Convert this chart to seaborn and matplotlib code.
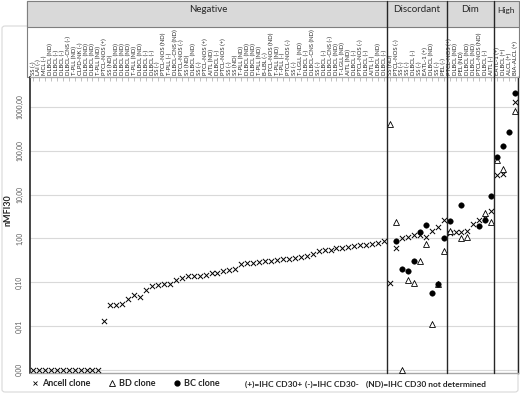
import numpy as np
import pandas as pd
import matplotlib
matplotlib.use("Agg")
import matplotlib.pyplot as plt
import seaborn as sns
from matplotlib.patches import Rectangle, FancyBboxPatch
from matplotlib.lines import Line2D
from matplotlib.ticker import FixedLocator, NullLocator, FuncFormatter

sns.set_style("white")
plt.rcParams['font.family'] = ['Lato', 'DejaVu Sans']

groups = ["Negative", "Discordant", "Dim", "High"]
group_sizes = [60, 10, 8, 4]

samples = [
    "SS (-)", "LAI (-)", "MCL (-)", "DLBCL (ND)", "DLBCL (-)", "DLBCL (-)", "DLBCL-CNS (-)",
    "T-PLL (ND)", "CLPD-NK (-)", "DLBCL (ND)", "DLBCL (ND)", "T-PLL (ND)", "PTCL-NOS (+)",
    "SS (ND)", "DLBCL (ND)", "DLBCL (ND)", "DLBCL (ND)", "T-PLL (ND)", "DLBCL (ND)",
    "DLBCL (-)", "DLBCL (-)", "SS (-)", "PTCL-NOS (ND)", "T-PLL (-)", "DLBCL-CNS (ND)",
    "PTCL-NOS (-)", "SS (ND)", "DLBCL (ND)", "SS (-)", "PTCL-NOS (+)", "AITL (ND)",
    "DLBCL (-)", "PTCL-NOS (+)", "SS (-)", "SS (ND)", "T-PLL (ND)", "DLBCL (ND)",
    "DLBCL (ND)", "T-PLL (ND)", "B-LBL (-)", "PTCL-NOS (ND)", "T-PLL (ND)", "T-PLL (-)",
    "PTCL-NOS (-)", "SS (-)", "T-LGLL (ND)", "DLBCL (-)", "DLBCL-CNS (ND)", "SS (-)",
    "DLBCL (-)", "DLBCL-CNS (-)", "DLBCL (ND)", "T-LGLL (ND)", "AITL (ND)", "DLBCL (-)",
    "PTCL-NOS (-)", "DLBCL (-)", "AITL (-)", "DLBCL (ND)", "DLBCL (-)",
    # discordant
    "SS (ND)", "PTCL-NOS (-)", "SS (-)", "SS (-)", "DLBCL (-)", "SS (-)", "EATL-1 (+)",
    "DLBCL (ND)", "SS (-)", "PEL (-)",
    # dim
    "PTCL-NOS (+)", "DLBCL (ND)", "PEL (ND)", "DLBCL (ND)", "DLBCL (ND)", "PTCL-NOS (ND)",
    "DLBCL (-)", "AITL (-)",
    # high
    "EATL-1 (+)", "DLBCL (+)", "ALCL (+)", "BIA-ALCL (+)",
]

nan = np.nan
# zero values are drawn on the 0,00 line (0.001)
ancell = [0.001] * 12 + [
    0.013, 0.030, 0.030, 0.031, 0.041, 0.052, 0.047, 0.068, 0.080, 0.088, 0.090, 0.090,
    0.115, 0.125, 0.135, 0.140, 0.142, 0.148, 0.159, 0.166, 0.180, 0.190, 0.200, 0.260,
    0.270, 0.280, 0.290, 0.300, 0.310, 0.320, 0.330, 0.345, 0.360, 0.370, 0.390, 0.430,
    0.520, 0.530, 0.550, 0.590, 0.610, 0.640, 0.660, 0.690, 0.720, 0.760, 0.800, 0.850,
    0.098, 0.59, 1.0, 1.1, 1.2, 1.2, 1.05, 1.5, 1.8, 2.6,
    1.3, 1.42, 1.42, 1.45, 2.1, 2.6, 3.0, 4.3,
    28, 29, nan, 1300,
]
bd = [nan] * 60 + [
    410, 2.4, 0.001, 0.11, 0.095, 0.30, 0.73, 0.011, 0.09, 0.51,
    1.45, nan, 1.0, 1.1, nan, nan, 3.9, 2.4,
    62, 38, nan, 810,
]
bc = [nan] * 60 + [
    nan, 0.87, 0.20, 0.18, 0.30, 1.42, 2.0, 0.056, 0.09, 1.0,
    2.45, nan, 5.9, nan, nan, 1.95, 2.7, 9.3,
    74, 126, 270, 2100,
]

pos = np.arange(len(samples))
df = pd.DataFrame({"pos": pos, "Ancell": ancell, "BD": bd, "BC": bc})

fig = plt.figure(figsize=(5.2, 3.94), dpi=100)
W, H = 520, 394
ax = fig.add_axes([30 / W, (H - 373) / H, 488 / W, 296 / H])
ax.set_zorder(2)
ax.patch.set_alpha(0)

# outer chart frame
fig.add_artist(FancyBboxPatch((2 / W, 2 / H), 516 / W, 366 / H, boxstyle="round,pad=0,rounding_size=0.006",
                              transform=fig.transFigure, fc="none", ec="#d9d9d9", lw=0.8, zorder=0))
# label strip + header box
fig.add_artist(Rectangle((27 / W, (H - 77) / H), 492 / W, 76 / H, transform=fig.transFigure,
                         fc="white", ec="#7f7f7f", lw=0.8, zorder=1))
fig.add_artist(Rectangle((27 / W, (H - 27) / H), 492 / W, 26 / H, transform=fig.transFigure,
                         fc="#d9d9d9", ec="#7f7f7f", lw=0.8, zorder=1))

sns.scatterplot(data=df, x="pos", y="Ancell", marker="x", s=14, color="black", linewidth=0.7, ax=ax, zorder=3)
sns.scatterplot(data=df, x="pos", y="BD", marker="^", s=18, facecolor="white", edgecolor="black",
                linewidth=0.6, ax=ax, zorder=4)
sns.scatterplot(data=df, x="pos", y="BC", marker="o", s=16, color="black", edgecolor="black",
                linewidth=0.3, ax=ax, zorder=5)

ax.set_yscale("log")
ax.set_ylim(10 ** -3.073, 10 ** 3.685)
ax.set_xlim(-0.5, len(samples) - 0.5)
ax.yaxis.set_major_locator(FixedLocator([0.001, 0.01, 0.1, 1, 10, 100, 1000]))
ax.yaxis.set_minor_locator(NullLocator())
ax.yaxis.set_major_formatter(FuncFormatter(lambda v, p: f"{v:.2f}".replace(".", ",")))
ax.yaxis.grid(True, color="#d9d9d9", lw=0.8)
ax.set_axisbelow(True)
ax.tick_params(axis="y", length=0, pad=5, labelsize=4.8, labelcolor="#595959")
plt.setp(ax.get_yticklabels(), rotation=90, va="center")
ax.set_ylabel("nMFI30", fontsize=6.5, fontweight="bold", color="#262626")
ax.yaxis.set_label_coords(-0.035, 0.55)

ax.set_xticks(pos)
ax.set_xticklabels(samples, rotation=90, fontsize=4.3, color="#262626")
ax.xaxis.tick_top()
ax.tick_params(axis="x", direction="in", length=3, width=0.5, color="#a6a6a6", pad=1.5)
ax.set_xlabel("")

for side, c, lw in [("left", "#262626", 1.2), ("right", "#262626", 1.0),
                    ("top", "#a6a6a6", 0.8), ("bottom", "#a6a6a6", 1.0)]:
    ax.spines[side].set_color(c)
    ax.spines[side].set_linewidth(lw)

# group separators and header texts
edges = np.cumsum([0] + group_sizes) - 0.5
for e in edges[1:-1]:
    ax.axvline(e, ymin=0, ymax=372 / 296, color="#262626", lw=1.0, clip_on=False, zorder=6)
for g, a, b in zip(groups, edges[:-1], edges[1:]):
    lo = max(a, -0.9)
    ax.text((lo + b) / 2, 1 + (373 - 10 - 296) / 296, g, transform=ax.get_xaxis_transform(),
            ha="center", va="center", fontsize=7 if g != "High" else 6, color="#262626")

# legend
handles = [
    Line2D([], [], marker="x", ls="none", color="black", ms=3.5, mew=0.6),
    Line2D([], [], marker="^", ls="none", mfc="white", mec="black", ms=4, mew=0.6),
    Line2D([], [], marker="o", ls="none", color="black", ms=3.5),
]
fig.legend(handles, ["Ancell clone", "BD clone", "BC clone"], loc="center left",
           bbox_to_anchor=(31 / W, (H - 384) / H), ncol=3, frameon=False,
           prop={"size": 6.5, "weight": "bold"}, handletextpad=0.4, columnspacing=2.0,
           handlelength=0.8, borderaxespad=0, borderpad=0)
for x, t in [(245, "(+)=IHC CD30+"), (305, "(-)=IHC CD30-"), (366, "(ND)=IHC CD30 not determined")]:
    fig.text(x / W, (H - 384) / H, t, fontsize=6, fontweight="bold", va="center", color="#262626")

fig.savefig("out.png", dpi=100)
